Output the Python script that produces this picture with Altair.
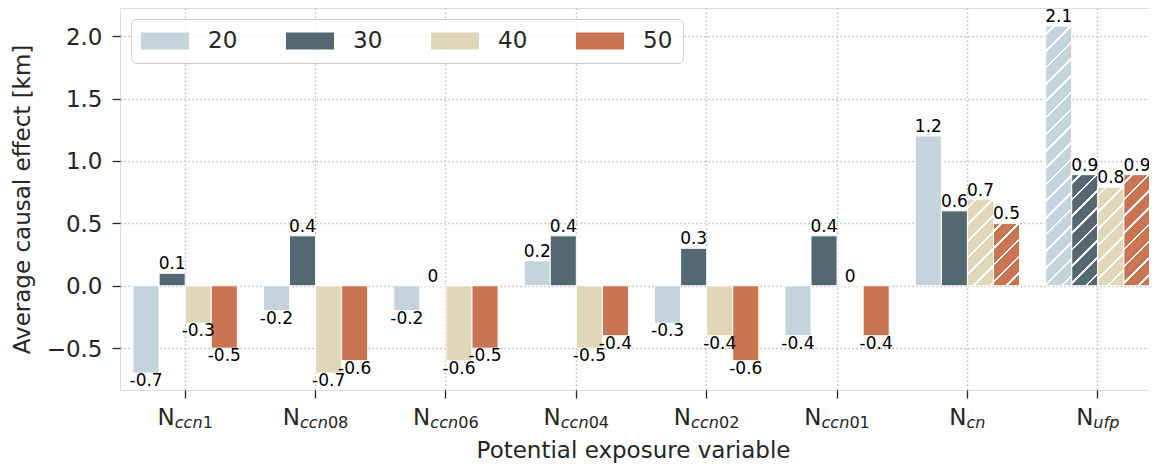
import altair as alt
import pandas as pd

# ---------------- data ----------------
categories = ["N_ccn1", "N_ccn08", "N_ccn06", "N_ccn04", "N_ccn02", "N_ccn01", "N_cn", "N_ufp"]
sub_letters = ["ccn", "ccn", "ccn", "ccn", "ccn", "ccn", "cn", "ufp"]
sub_digits = ["1", "08", "06", "04", "02", "01", "", ""]
series = ["20", "30", "40", "50"]
series_colors = ["#c4d4dc", "#546873", "#e0d7b8", "#c97552"]
values_20 = [-0.7, -0.2, -0.2, 0.2, -0.3, -0.4, 1.2, 2.08]
values_30 = [0.1, 0.4, 0.0, 0.4, 0.3, 0.4, 0.6, 0.89]
values_40 = [-0.3, -0.7, -0.6, -0.5, -0.4, 0.0, 0.69, 0.79]
values_50 = [-0.5, -0.6, -0.5, -0.4, -0.6, -0.4, 0.5, 0.89]
hatched_cats = ["N_cn", "N_cn", "N_ufp", "N_ufp", "N_ufp", "N_ufp"]
hatched_series = ["40", "50", "20", "30", "40", "50"]
y_tick_values = [-0.5, 0.0, 0.5, 1.0, 1.5, 2.0]
x_title = "Potential exposure variable"
y_title = "Average causal effect [km]"

# ---------------- layout / style ----------------
W, H = 1043, 382
Y_DOMAIN = [-0.835, 2.225]
FONT = "DejaVu Sans"
TXT = "#262626"
FS = 23
SUB_FS = 0.7 * FS
BAR_FS = 17
GRID = "#b8b8b8"
HATCH_PERIOD = 16.7
HATCH_LW = 2.6

# DejaVu Sans advance widths (em) for centering the composed tick labels
ADV = {"N": 0.748, "c": 0.550, "n": 0.634, "u": 0.634, "f": 0.352, "p": 0.635}
DIGIT_ADV = 0.636

series_values = {"20": values_20, "30": values_30, "40": values_40, "50": values_50}

rows = []
for s in series:
    for c, v in zip(categories, series_values[s]):
        rows.append({"cat": c, "series": s, "value": v,
                     "label": "0" if v == 0 else f"{v:.1f}"})
df = pd.DataFrame(rows)

lab_rows = []
for c, L, D in zip(categories, sub_letters, sub_digits):
    wN = ADV["N"] * FS
    wl = sum(ADV[ch] for ch in L) * SUB_FS
    wd = len(D) * DIGIT_ADV * SUB_FS
    jdx = (wN - (wl + wd)) / 2
    lab_rows.append({"cat": c, "N": "N", "letters": L, "digits": D,
                     "jdx": jdx, "ddx": jdx + wl})
lab_df = pd.DataFrame(lab_rows)

bar_w = W / len(categories) * 0.2
ppu = H / (Y_DOMAIN[1] - Y_DOMAIN[0])


def hatch_gradient(v):
    h = abs(v) * ppu
    w = bar_w
    k = (w + h) / (w * w + h * h)
    total = w + h
    clear, white = "rgba(255,255,255,0)", "rgba(255,255,255,1)"
    stops = [{"offset": 0, "color": clear}]
    s = HATCH_PERIOD / 2
    while s - HATCH_LW / 2 < total:
        a = max(0.0, (s - HATCH_LW / 2) / total)
        b = min(1.0, (s + HATCH_LW / 2) / total)
        stops += [{"offset": a, "color": clear}, {"offset": a, "color": white},
                  {"offset": b, "color": white}, {"offset": b, "color": clear}]
        s += HATCH_PERIOD
    stops.append({"offset": 1, "color": clear})
    return {"gradient": "linear", "x1": 0, "y1": 0, "x2": k * w, "y2": k * h,
            "stops": stops}


hatch_rows = []
for c, s in zip(hatched_cats, hatched_series):
    v = series_values[s][categories.index(c)]
    hatch_rows.append({"cat": c, "series": s, "value": v, "grad": hatch_gradient(v)})

# ---------------- encodings ----------------
x_enc = alt.X("cat:N", sort=categories,
              scale=alt.Scale(domain=categories, paddingInner=0, paddingOuter=0),
              axis=alt.Axis(labels=False, title=x_title, domain=False,
                            ticks=True, tickSize=8, tickWidth=1.3, tickColor=TXT,
                            bandPosition=0.5, grid=True, gridColor=GRID,
                            gridDash=[1.5, 2.5], gridWidth=1.4,
                            titleFontSize=FS, titleFont=FONT, titleColor=TXT,
                            titleFontWeight="normal", titleX=513, titleY=67,
                            titleBaseline="alphabetic", titleAlign="center"))
xoff_enc = alt.XOffset("series:N", sort=series,
                       scale=alt.Scale(domain=series, paddingInner=0, paddingOuter=0.5))
y_enc = alt.Y("value:Q",
              scale=alt.Scale(domain=Y_DOMAIN, nice=False),
              axis=alt.Axis(values=y_tick_values, format=".1f", title=y_title,
                            domain=False, tickSize=8, tickWidth=1.3, tickColor=TXT,
                            labelFontSize=FS, labelFont=FONT, labelColor=TXT,
                            labelPadding=10, labelBaseline="middle", labelOffset=1,
                            grid=True, gridColor=GRID, gridDash=[1.5, 2.5],
                            gridWidth=1.4, titleFontSize=FS, titleFont=FONT,
                            titleColor=TXT, titleFontWeight="normal",
                            titleAngle=270, titleX=-91, titleY=H / 2,
                            titleBaseline="alphabetic", titleAlign="center"))

# symbol laid out as a 24px square, drawn as a 48x17 patch starting at its left edge
legend = alt.Legend(orient="none", legendX=11, legendY=11, direction="horizontal",
                    columns=4, title=None,
                    symbolType="M-1,-0.7L3,-0.7L3,0.7L-1,0.7Z",
                    symbolSize=576, symbolStrokeWidth=0, symbolOpacity=1,
                    labelFontSize=FS, labelFont=FONT, labelColor=TXT,
                    labelOffset=43, columnPadding=48, padding=10,
                    fillColor="rgba(255,255,255,0.8)", strokeColor="#cccccc",
                    cornerRadius=5)

base = alt.Chart(df).encode(x=x_enc, xOffset=xoff_enc, y=y_enc)

bars = base.mark_bar(stroke="white", strokeWidth=1).encode(
    y2=alt.datum(0),
    color=alt.Color("series:N", sort=series,
                    scale=alt.Scale(domain=series, range=series_colors),
                    legend=legend))

hatch = alt.Chart(alt.Data(values=hatch_rows)).mark_bar(strokeWidth=0).encode(
    x=alt.X("cat:N", sort=categories),
    xOffset=alt.XOffset("series:N", sort=series),
    y=alt.Y("value:Q"),
    y2=alt.datum(0),
    fill=alt.Fill("grad:N", scale=None))

pos_labels = base.transform_filter("datum.value >= 0").mark_text(
    baseline="bottom", fontSize=BAR_FS, font=FONT, color="black"
).encode(text="label:N")
neg_labels = base.transform_filter("datum.value < 0").mark_text(
    baseline="top", fontSize=BAR_FS, font=FONT, color="black"
).encode(text="label:N")

lab_base = alt.Chart(lab_df).encode(x=alt.X("cat:N", sort=categories), y=alt.value(H))
n_text = lab_base.mark_text(align="right", baseline="alphabetic", fontSize=FS,
                            font=FONT, color=TXT, dx=alt.ExprRef("datum.jdx"),
                            dy=35).encode(text="N:N")
l_text = lab_base.mark_text(align="left", baseline="alphabetic", fontSize=SUB_FS,
                            font=FONT, fontStyle="italic", color=TXT,
                            dx=alt.ExprRef("datum.jdx"), dy=38.3).encode(text="letters:N")
d_text = lab_base.mark_text(align="left", baseline="alphabetic", fontSize=SUB_FS,
                            font=FONT, color=TXT,
                            dx=alt.ExprRef("datum.ddx"), dy=38.3).encode(text="digits:N")

chart = alt.layer(bars, hatch, pos_labels, neg_labels, n_text, l_text, d_text).properties(
    width=W, height=H,
    autosize=alt.AutoSizeParams(type="none"),
    padding={"left": 112, "top": 0, "right": -14, "bottom": 76},
).configure_view(stroke="transparent").configure(font=FONT)

chart.save("out.html", embed_options={"renderer": "svg", "actions": False})
